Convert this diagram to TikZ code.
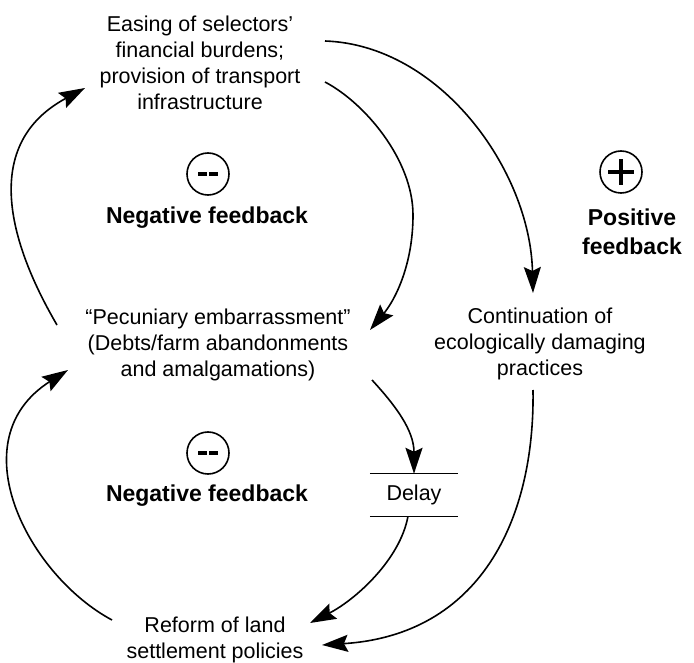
\documentclass[tikz,border=0pt]{standalone}
\usepackage{fontspec}
\setmainfont{Liberation Sans}
\usetikzlibrary{arrows.meta}
\begin{document}
\begin{tikzpicture}[x=1pt,y=-1pt,
  txt/.style={align=center,inner sep=0pt,font=\fontsize{21.5}{26}\selectfont},
  bold/.style={align=center,inner sep=0pt,font=\fontsize{23}{29}\selectfont\bfseries},
  arr/.style={line width=1.6pt,-{Stealth[length=26pt,width=17pt,inset=4pt]}},
  sign/.style={circle,draw,line width=1.6pt,minimum size=42pt,inner sep=0pt},
  delaybox/.style={minimum width=88pt,minimum height=42pt,inner sep=0pt,
    font=\fontsize{21.5}{26}\selectfont}]
\useasboundingbox (0,0) rectangle (694,663);

% text of the loop elements
\node[txt] (ease) at (200,63) {Easing of selectors’\\financial burdens;\\provision of transport\\infrastructure};
\node[txt] (pec) at (218,345) {“Pecuniary embarrassment”\\(Debts/farm abandonments\\and amalgamations)};
\node[txt] (cont) at (540,344) {Continuation of\\ecologically damaging\\practices};
\node[txt] (reform) at (215,640) {Reform of land\\settlement policies};
\node[delaybox] (delay) at (414,495) {Delay\hspace{12pt}};
\draw[line width=1.3pt] (delay.north west) -- (delay.north east);
\draw[line width=1.3pt] (delay.south west) -- (delay.south east);

% loop polarity signs and labels
\node[sign,path picture={
  \draw[line width=3.2pt] ([xshift=-10pt]path picture bounding box.center) -- ([xshift=-1pt]path picture bounding box.center);
  \draw[line width=3.2pt] ([xshift=1pt]path picture bounding box.center) -- ([xshift=10pt]path picture bounding box.center);}]
  (neg1) at (208,174) {};
\node[bold] (neglab1) at (207,218) {Negative feedback};
\node[sign,path picture={
  \draw[line width=3.2pt] ([xshift=-10pt]path picture bounding box.center) -- ([xshift=-1pt]path picture bounding box.center);
  \draw[line width=3.2pt] ([xshift=1pt]path picture bounding box.center) -- ([xshift=10pt]path picture bounding box.center);}]
  (neg2) at (208,453) {};
\node[bold] (neglab2) at (207,496) {Negative feedback};
\node[sign,path picture={
  \draw[line width=4pt] ([xshift=-13pt]path picture bounding box.center) -- ([xshift=13pt]path picture bounding box.center);
  \draw[line width=4pt] ([yshift=-13pt]path picture bounding box.center) -- ([yshift=13pt]path picture bounding box.center);}]
  (pos) at (621,172) {};
\node[bold] (poslab) at (632,232) {Positive\\feedback};

% connector end points
\coordinate (peclo) at (57,325);
\coordinate (easein) at (85,88);
\coordinate (refl) at (112,620);
\coordinate (pecin) at (68,370);
\coordinate (easeo1) at (325,82);
\coordinate (easemid) at (413,215);
\coordinate (pecout) at (370,330);
\coordinate (easeo2) at (325,41);
\coordinate (contin) at (533,293);
\coordinate (pecd) at (372,380);
\coordinate (refin1) at (310,623);
\coordinate (contout) at (533,390);
\coordinate (refin2) at (322,645);

% connectors
\draw[arr] (peclo) .. controls (22,265) and (-30,150) .. (easein);
\draw[arr] (refl) .. controls (28,575) and (-42,440) .. (pecin);
\draw[arr] (easeo1) .. controls (365,103) and (413,160) .. (easemid)
  .. controls (413,265) and (395,300) .. (pecout);
\draw[arr] (easeo2) .. controls (440,45) and (530,170) .. (contin);
\draw[arr] (pecd) .. controls (395,405) and (414,430) .. (delay.north);
\draw[arr] ([xshift=-6pt]delay.south) .. controls (400,560) and (355,600) .. (refin1);
\draw[arr] (contout) .. controls (535,520) and (480,635) .. (refin2);
\end{tikzpicture}
\end{document}
